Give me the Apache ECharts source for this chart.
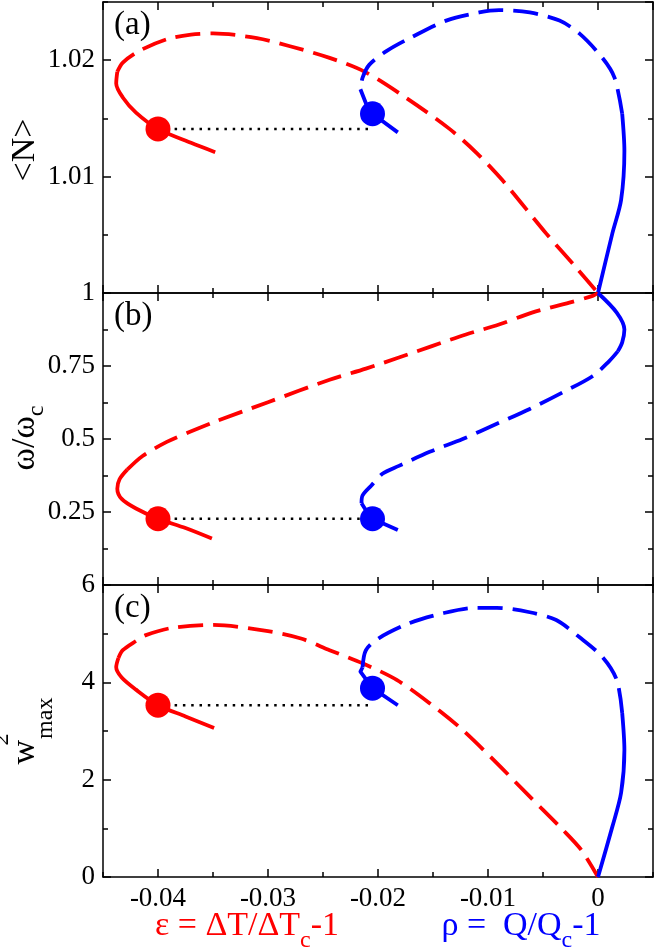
<!DOCTYPE html>
<html><head><meta charset="utf-8">
<script src="https://cdn.jsdelivr.net/npm/echarts@6/dist/echarts.min.js"></script>
<style>html,body{margin:0;padding:0;background:#fff}#c{width:654px;height:950px}</style>
</head><body><div id="c"></div>
<script>
// ---------- data ----------
const xRange = [-0.045, 0.005];
const yMin = [1, 0, 0];
const yMax = [1.025, 1, 6];
const yInterval = [0.01, 0.25, 2];
const panelLabels = ['(a)', '(b)', '(c)'];

// panel (a) <N>
const redA_solid = [[-0.0348,1.0121],[-0.0370,1.0129],[-0.0400,1.0141],[-0.0420,1.0155],[-0.0432,1.0168],[-0.0438,1.0180],[-0.0437,1.0190]];
const redA_dash = [[-0.0437,1.0190],[-0.0432,1.0198],[-0.0417,1.0208],[-0.0392,1.0218],[-0.0370,1.0222],[-0.0350,1.0223],[-0.0310,1.0219],[-0.0280,1.0212],[-0.0244,1.0202],[-0.0212,1.0190],[-0.0175,1.0168],[-0.0135,1.0141],[-0.0110,1.0120],[-0.0087,1.0097],[-0.0047,1.0051],[-0.0020,1.0022],[0,1.0]];
const blueA_solid = [[0,1.0],[0.0013,1.0051],[0.0021,1.0080],[0.0024,1.0122],[0.0022,1.0154]];
const blueA_dash = [[0.0022,1.0154],[0.0015,1.0185],[0.0004,1.0202],[-0.0017,1.0223],[-0.0035,1.0234],[-0.0062,1.0241],[-0.0090,1.0243],[-0.0108,1.0241],[-0.0138,1.0234],[-0.0169,1.0220],[-0.0192,1.0208],[-0.0208,1.0196],[-0.0214,1.0185],[-0.0216,1.0175]];
const blueA_tail = [[-0.0216,1.0175],[-0.0211,1.0163],[-0.0205,1.0154],[-0.0182,1.0138]];

// panel (b) omega/omega_c
const redB_solid = [[-0.0351,0.159],[-0.0375,0.195],[-0.0400,0.227],[-0.0420,0.262],[-0.0433,0.295],[-0.0437,0.330],[-0.0435,0.362],[-0.0428,0.395]];
const redB_dash = [[-0.0428,0.395],[-0.0414,0.442],[-0.0392,0.490],[-0.0372,0.523],[-0.0347,0.561],[-0.0300,0.626],[-0.0244,0.703],[-0.0211,0.741],[-0.0181,0.779],[-0.0151,0.818],[-0.0120,0.858],[-0.0090,0.892],[-0.0060,0.933],[-0.0026,0.967],[-0.0005,0.990],[0,1.0]];
const blueB_solid = [[0,1.0],[0.0017,0.933],[0.0024,0.875],[0.0022,0.831],[0.0018,0.800]];
const blueB_dash = [[0.0018,0.800],[0.0010,0.766],[-0.0005,0.715],[-0.0032,0.660],[-0.0062,0.603],[-0.0092,0.552],[-0.0123,0.500],[-0.0153,0.456],[-0.0181,0.408],[-0.0196,0.381],[-0.0206,0.341],[-0.0214,0.307],[-0.0215,0.280]];
const blueB_tail = [[-0.0215,0.280],[-0.0210,0.250],[-0.0205,0.227],[-0.0182,0.188]];

// panel (c) w^2_max
const redC_solid = [[-0.0349,3.06],[-0.0375,3.30],[-0.0400,3.53],[-0.0420,3.85],[-0.0433,4.10],[-0.0438,4.31],[-0.0436,4.50]];
const redC_dash = [[-0.0436,4.50],[-0.0432,4.66],[-0.0420,4.85],[-0.0411,4.97],[-0.0387,5.12],[-0.0350,5.18],[-0.0300,5.05],[-0.0270,4.90],[-0.0244,4.66],[-0.0214,4.39],[-0.0183,4.05],[-0.0153,3.57],[-0.0123,3.02],[-0.0092,2.34],[-0.0062,1.65],[-0.0032,0.97],[-0.0015,0.55],[0,0]];
const blueC_solid = [[0,0],[0.0013,1.03],[0.0021,1.73],[0.0024,2.61],[0.0022,3.37]];
const blueC_dash = [[0.0022,3.37],[0.0017,4.05],[0.0004,4.52],[-0.0017,4.93],[-0.0038,5.28],[-0.0062,5.44],[-0.0092,5.53],[-0.0111,5.53],[-0.0141,5.42],[-0.0171,5.22],[-0.0199,4.91],[-0.0211,4.66],[-0.0214,4.31]];
const blueC_tail = [[-0.0214,4.31],[-0.0216,4.22],[-0.0205,3.88],[-0.0182,3.53]];

const redDots = [[-0.0400,1.0141],[-0.0400,0.227],[-0.0400,3.53]];
const blueDots = [[-0.0205,1.0154],[-0.0205,0.227],[-0.0205,3.88]];
const dottedA = [[-0.0400,1.0141],[-0.0208,1.0141]];
const dottedB = [[-0.0400,0.227],[-0.0208,0.227]];
const dottedC = [[-0.0400,3.53],[-0.0208,3.53]];

// ---------- chart ----------
const SERIF = '"Liberation Serif","Times New Roman",serif';
const RED = '#ff0000', BLUE = '#0000ff';
const gridTops = [2, 293, 585];
const gridHeights = [291, 292, 292];
const grids = gridTops.map((t, i) => ({left: 103, top: t, width: 550, height: gridHeights[i], containLabel: false}));

const fmt = v => String(+(+v).toFixed(4));
const xAxes = [], yAxes = [];
for (let i = 0; i < 3; i++) {
  ['bottom', 'top'].forEach(pos => {
    xAxes.push({
      type: 'value', gridIndex: i, position: pos, min: xRange[0], max: xRange[1], splitNumber: 5,
      axisLine: {show: true, onZero: false, lineStyle: {color: '#000', width: 1.5}},
      axisTick: {show: true, inside: true, length: 8, lineStyle: {color: '#000', width: 1.5}},
      axisLabel: {show: i === 2 && pos === 'bottom', showMinLabel: false, showMaxLabel: false, margin: 8,
        formatter: fmt, fontFamily: SERIF, fontSize: 27, color: '#000'},
      splitLine: {show: false}
    });
    xAxes.push({
      type: 'value', gridIndex: i, position: pos, min: xRange[0], max: xRange[1], interval: 0.005,
      axisLine: {show: false, onZero: false},
      axisTick: {show: true, inside: true, length: 5, lineStyle: {color: '#000', width: 1.5}},
      axisLabel: {show: false}, splitLine: {show: false}
    });
  });
  ['left', 'right'].forEach(pos => {
    yAxes.push({
      type: 'value', gridIndex: i, position: pos, min: yMin[i], max: yMax[i], interval: yInterval[i],
      axisLine: {show: true, onZero: false, lineStyle: {color: '#000', width: 1.5}},
      axisTick: {show: true, inside: true, length: 8, lineStyle: {color: '#000', width: 1.5}},
      axisLabel: {show: pos === 'left', showMinLabel: i !== 1, showMaxLabel: i === 2, margin: 8,
        formatter: fmt, fontFamily: SERIF, fontSize: 27, color: '#000'},
      splitLine: {show: false}
    });
    yAxes.push({
      type: 'value', gridIndex: i, position: pos, min: yMin[i], max: yMax[i], interval: yInterval[i] / 2,
      axisLine: {show: false, onZero: false},
      axisTick: {show: true, inside: true, length: 5, lineStyle: {color: '#000', width: 1.5}},
      axisLabel: {show: false}, splitLine: {show: false}
    });
  });
}

const DASH = [25, 10];
function curve(data, i, color, dashed, smooth) {
  return {type: 'line', xAxisIndex: 4 * i, yAxisIndex: 4 * i, data: data, showSymbol: false, symbol: 'none',
    smooth: smooth === undefined ? 0.3 : smooth, silent: true, z: 3,
    lineStyle: {color: color, width: 3.8, type: dashed ? DASH : 'solid', cap: 'butt', join: 'round'}};
}
function dotted(data, i) {
  return {type: 'line', xAxisIndex: 4 * i, yAxisIndex: 4 * i, data: data, showSymbol: false, symbol: 'none', silent: true, z: 2,
    lineStyle: {color: '#000', width: 2.5, type: [2.5, 5.8], cap: 'butt'}};
}
function dots(data, color) {
  return data.map((p, i) => ({type: 'scatter', xAxisIndex: 4 * i, yAxisIndex: 4 * i, data: [p], symbol: 'circle', symbolSize: 25,
    silent: true, z: 5, itemStyle: {color: color, opacity: 1}}));
}

const series = [
  curve(redA_solid, 0, RED, false), curve(redA_dash, 0, RED, true),
  curve(blueA_solid, 0, BLUE, false), curve(blueA_dash, 0, BLUE, true), curve(blueA_tail, 0, BLUE, false, 0),
  curve(redB_solid, 1, RED, false), curve(redB_dash, 1, RED, true),
  curve(blueB_solid, 1, BLUE, false), curve(blueB_dash, 1, BLUE, true), curve(blueB_tail, 1, BLUE, false, 0),
  curve(redC_solid, 2, RED, false), curve(redC_dash, 2, RED, true),
  curve(blueC_solid, 2, BLUE, false), curve(blueC_dash, 2, BLUE, true), curve(blueC_tail, 2, BLUE, false, 0),
  dotted(dottedA, 0), dotted(dottedB, 1), dotted(dottedC, 2),
  ...dots(redDots, RED), ...dots(blueDots, BLUE)
];

const F34 = '34px ' + SERIF, F24 = '24px ' + SERIF;
const graphic = [
  ...panelLabels.map((t, i) => ({type: 'text', x: 114, y: gridTops[i] + 23, z: 10,
    style: {text: t, font: '33px ' + SERIF, fill: '#000', align: 'left', verticalAlign: 'middle'}})),
  {type: 'text', x: 25, y: 150, rotation: Math.PI / 2, z: 10,
    style: {text: '<N>', font: F34, fill: '#000', align: 'center', verticalAlign: 'middle'}},
  {type: 'text', x: 25, y: 438, rotation: Math.PI / 2, z: 10,
    style: {text: '{m|ω/ω}{s|c}', fill: '#000', align: 'center', verticalAlign: 'middle',
      rich: {m: {font: F34, fill: '#000'}, s: {font: F24, fill: '#000', padding: [24, 0, 0, 0]}}}},
  {type: 'text', x: 25, y: 731, rotation: Math.PI / 2, z: 10,
    style: {text: '{m|w}{p|2}{s|max}', fill: '#000', align: 'center', verticalAlign: 'middle',
      rich: {m: {font: F34, fill: '#000'}, p: {font: F24, fill: '#000', width: 1, padding: [0, 0, 46, 0]},
             s: {font: F24, fill: '#000', padding: [41, 0, 0, 0]}}}},
  {type: 'text', x: 247, y: 926, z: 10,
    style: {text: '{m|ε = ΔT/ΔT}{s|c}{m|-1}', fill: RED, align: 'center', verticalAlign: 'middle',
      rich: {m: {font: F34, fill: RED}, s: {font: F24, fill: RED, padding: [30, 0, 0, 0]}}}},
  {type: 'text', x: 521, y: 926, z: 10,
    style: {text: '{m|ρ =  Q/Q}{s|c}{m|-1}', fill: BLUE, align: 'center', verticalAlign: 'middle',
      rich: {m: {font: F34, fill: BLUE}, s: {font: F24, fill: BLUE, padding: [30, 0, 0, 0]}}}}
];

const chart = echarts.init(document.getElementById('c'), null, {renderer: 'canvas'});
chart.setOption({
  animation: false, backgroundColor: '#fff',
  grid: grids, xAxis: xAxes, yAxis: yAxes, series: series, graphic: graphic
});
</script></body></html>
